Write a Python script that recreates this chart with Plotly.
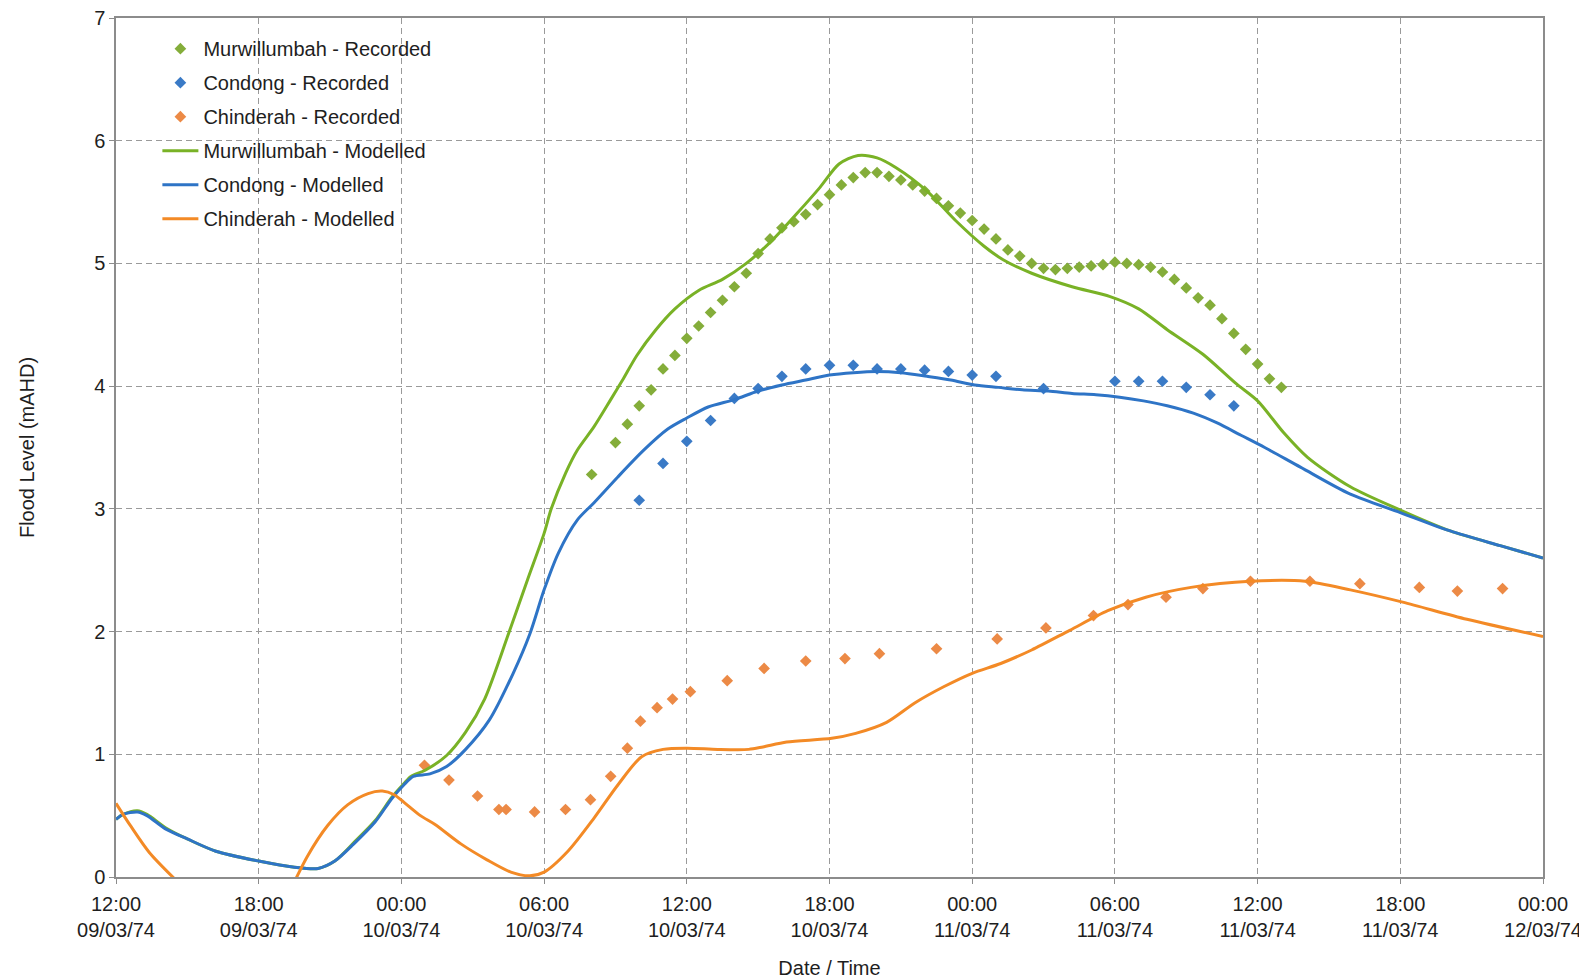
import pandas as pd
import plotly.graph_objects as go

BASE = pd.Timestamp("1974-03-09 12:00")

def to_dt(hours):
    return [None if h is None else BASE + pd.Timedelta(hours=h) for h in hours]

# ---- Recorded levels (hours after 12:00 09/03/74, mAHD) ----
murw_rec_h = [20.0, 21.0, 21.5, 22.0, 22.5, 23.0, 23.5, 24.0, 24.5, 25.0, 25.5, 26.0, 26.5,
              27.0, 27.5, 28.0, 28.5, 29.0, 29.5, 30.0, 30.5, 31.0, 31.5, 32.0, 32.5, 33.0,
              33.5, 34.0, 34.5, 35.0, 35.5, 36.0, 36.5, 37.0, 37.5, 38.0, 38.5, 39.0, 39.5,
              40.0, 40.5, 41.0, 41.5, 42.0, 42.5, 43.0, 43.5, 44.0, 44.5, 45.0, 45.5, 46.0,
              46.5, 47.0, 47.5, 48.0, 48.5, 49.0]
murw_rec_y = [3.28, 3.54, 3.69, 3.84, 3.97, 4.14, 4.25, 4.39, 4.49, 4.60, 4.70, 4.81, 4.92,
              5.08, 5.20, 5.29, 5.34, 5.40, 5.48, 5.56, 5.64, 5.70, 5.74, 5.74, 5.71, 5.68,
              5.64, 5.59, 5.53, 5.47, 5.41, 5.35, 5.28, 5.20, 5.11, 5.06, 5.00, 4.96, 4.95,
              4.96, 4.97, 4.98, 4.99, 5.01, 5.00, 4.99, 4.97, 4.93, 4.87, 4.80, 4.72, 4.66,
              4.55, 4.43, 4.30, 4.18, 4.06, 3.99]

cond_rec_h = [22, 23, 24, 25, 26, 27, 28, 29, 30, 31, 32, 33, 34, 35, 36, 37, 39,
              42, 43, 44, 45, 46, 47]
cond_rec_y = [3.07, 3.37, 3.55, 3.72, 3.90, 3.98, 4.08, 4.14, 4.17, 4.17, 4.14, 4.14, 4.13,
              4.12, 4.09, 4.08, 3.98, 4.04, 4.04, 4.04, 3.99, 3.93, 3.84]

chin_rec_h = [12.97, 14.0, 15.2, 16.1, 16.4, 17.6, 18.9, 19.95, 20.8, 21.5, 22.05, 22.75,
              23.4, 24.15, 25.7, 27.25, 29.0, 30.65, 32.1, 34.5, 37.05, 39.1, 41.1, 42.55,
              44.15, 45.7, 47.7, 50.2, 52.3, 54.8, 56.4, 58.3]
chin_rec_y = [0.91, 0.79, 0.66, 0.55, 0.55, 0.53, 0.55, 0.63, 0.82, 1.05, 1.27, 1.38,
              1.45, 1.51, 1.60, 1.70, 1.76, 1.78, 1.82, 1.86, 1.94, 2.03, 2.13, 2.22,
              2.28, 2.35, 2.41, 2.41, 2.39, 2.36, 2.33, 2.35]

# ---- Modelled levels ----
murw_mod_h = [0, 0.3, 0.9, 1.3, 2.1, 3.0, 4.2, 6.0, 7.5, 8.5, 9.2, 10.0, 10.9, 11.6, 12.1,
              12.4, 13.0, 13.9, 14.7, 15.5, 16.5, 17.3, 18.0, 18.3, 18.9, 19.4, 20.1, 20.8,
              21.3, 21.9, 22.7, 23.5, 24.5, 25.5, 26.5, 27.6, 28.6, 29.6, 30.4, 31.2, 32.0,
              32.8, 34.1, 35.3, 36.5, 37.3, 38.5, 40.2, 41.8, 43.0, 44.2, 45.7, 47.1, 48.0,
              49.1, 50.1, 51.9, 54.0, 56.1, 58.2, 60.0]
murw_mod_y = [0.47, 0.51, 0.54, 0.51, 0.40, 0.31, 0.21, 0.13, 0.08, 0.07, 0.13, 0.28, 0.46,
              0.65, 0.76, 0.82, 0.87, 0.99, 1.18, 1.45, 1.98, 2.42, 2.80, 3.00, 3.29, 3.48,
              3.67, 3.89, 4.05, 4.25, 4.46, 4.63, 4.78, 4.87, 5.00, 5.19, 5.40, 5.62, 5.81,
              5.88, 5.86, 5.78, 5.59, 5.35, 5.14, 5.03, 4.92, 4.81, 4.73, 4.63, 4.46, 4.26,
              4.02, 3.88, 3.62, 3.42, 3.18, 2.99, 2.82, 2.70, 2.60]

cond_mod_h = [0, 0.3, 0.9, 1.3, 2.1, 3.0, 4.2, 6.0, 7.5, 8.5, 9.2, 10.0, 10.9, 11.6, 12.1,
              12.5, 13.2, 13.9, 14.7, 15.7, 16.7, 17.4, 18.0, 18.6, 19.4, 20.1, 21.1, 22.2,
              23.2, 24.0, 24.9, 26.0, 27.0, 28.0, 29.0, 30.0, 31.0, 32.0, 33.0, 34.1, 35.1,
              36.1, 37.1, 38.1, 39.2, 40.2, 41.2, 42.2, 43.2, 44.2, 45.3, 46.3, 47.3, 48.3,
              49.8, 51.9, 54.0, 56.1, 58.2, 60.0]
cond_mod_y = [0.47, 0.51, 0.53, 0.50, 0.39, 0.31, 0.21, 0.13, 0.08, 0.07, 0.13, 0.27, 0.45,
              0.64, 0.75, 0.82, 0.84, 0.90, 1.04, 1.28, 1.66, 1.98, 2.34, 2.64, 2.91, 3.05,
              3.26, 3.48, 3.65, 3.74, 3.83, 3.89, 3.96, 4.01, 4.05, 4.09, 4.11, 4.12, 4.11,
              4.08, 4.05, 4.01, 3.99, 3.97, 3.96, 3.94, 3.93, 3.91, 3.88, 3.84, 3.78, 3.70,
              3.60, 3.50, 3.34, 3.12, 2.97, 2.82, 2.70, 2.60]

chin_mod_h = [0, 0.6, 1.4, 2.7, None,
              7.45, 8.05, 8.9, 9.75, 10.6, 11.2, 11.7, 12.1, 12.8, 13.4, 14.5, 15.6, 16.6,
              17.4, 18.0, 19.0, 20.1, 21.1, 22.1, 23.0, 24.0, 25.3, 26.6, 27.2, 28.2, 30.1,
              31.1, 32.4, 33.6, 34.8, 36.0, 37.2, 38.5, 40.1, 41.7, 43.3, 45.2, 47.7, 50.0,
              51.9, 54.1, 56.8, 60.0]
chin_mod_y = [0.60, 0.42, 0.20, -0.06, None,
              -0.06, 0.17, 0.42, 0.59, 0.68, 0.70, 0.67, 0.61, 0.50, 0.43, 0.27, 0.14, 0.04,
              0.01, 0.04, 0.21, 0.48, 0.75, 0.98, 1.04, 1.05, 1.04, 1.04, 1.06, 1.10, 1.13,
              1.17, 1.26, 1.42, 1.55, 1.66, 1.74, 1.85, 2.01, 2.17, 2.28, 2.36, 2.41, 2.41,
              2.34, 2.24, 2.10, 1.96]

y_ticks = [0, 1, 2, 3, 4, 5, 6, 7]

GREEN_L, BLUE_L, ORANGE_L = "#79B226", "#2E74C6", "#F38A26"
GREEN_M, BLUE_M, ORANGE_M = "#84AD3A", "#3A7AC6", "#EC8A46"
FONT = "Liberation Sans, Arial, sans-serif"
TXT = "#1e1e1e"

fig = go.Figure()

def rec(name, h, y, color, grp):
    fig.add_trace(go.Scatter(x=to_dt(h), y=y, mode="markers", name=name, legendgroup=grp,
                             marker=dict(symbol="diamond", size=9, color=color)))

def mod(name, h, y, color, grp):
    fig.add_trace(go.Scatter(x=to_dt(h), y=y, mode="lines", name=name, legendgroup=grp,
                             connectgaps=False,
                             line=dict(color=color, width=3, shape="spline", smoothing=0.8)))

rec("Murwillumbah - Recorded", murw_rec_h, murw_rec_y, GREEN_M, "a")
rec("Condong - Recorded", cond_rec_h, cond_rec_y, BLUE_M, "b")
rec("Chinderah - Recorded", chin_rec_h, chin_rec_y, ORANGE_M, "c")
mod("Murwillumbah - Modelled", murw_mod_h, murw_mod_y, GREEN_L, "d")
mod("Condong - Modelled", cond_mod_h, cond_mod_y, BLUE_L, "e")
mod("Chinderah - Modelled", chin_mod_h, chin_mod_y, ORANGE_L, "f")

grid = dict(showgrid=True, gridcolor="#9a9a9a", gridwidth=1, griddash="6px,4px")
axline = dict(showline=True, linecolor="#8c8c8c", linewidth=1.5, mirror=True,
              ticks="outside", ticklen=5, tickcolor="#8c8c8c", zeroline=False,
              automargin=False, ticklabeloverflow="allow",
              tickfont=dict(family=FONT, size=20, color=TXT))

fig.update_layout(
    template="none",
    width=1579, height=971,
    paper_bgcolor="white", plot_bgcolor="white",
    margin=dict(l=108, r=44, t=10, b=102),
    font=dict(family=FONT, size=20, color=TXT),
    xaxis=dict(type="date", range=[BASE, BASE + pd.Timedelta(hours=60)],
               tick0=BASE, dtick=6 * 3600 * 1000, tickformat="%H:%M<br>%d/%m/%y",
               ticklabelstandoff=3,
               title=dict(text="Date / Time", standoff=28,
                          font=dict(family=FONT, size=20, color=TXT)),
               **grid, **axline),
    yaxis=dict(range=[0, 7], tickvals=y_ticks,
               title=dict(text="Flood Level (mAHD)", standoff=54,
                          font=dict(family=FONT, size=20, color=TXT)),
               **grid, **axline),
    legend=dict(x=0.029, y=0.987, xanchor="left", yanchor="top",
                bgcolor="rgba(0,0,0,0)", borderwidth=0,
                traceorder="grouped", tracegroupgap=5, itemwidth=36,
                font=dict(family=FONT, size=20, color=TXT)),
    showlegend=True,
    shapes=[dict(type="rect", xref="paper", yref="paper", x0=0.0015, x1=0.234,
                 y0=0.742, y1=0.995, fillcolor="white", line=dict(width=0),
                 layer="between")],
)

fig.write_html("out.html")
